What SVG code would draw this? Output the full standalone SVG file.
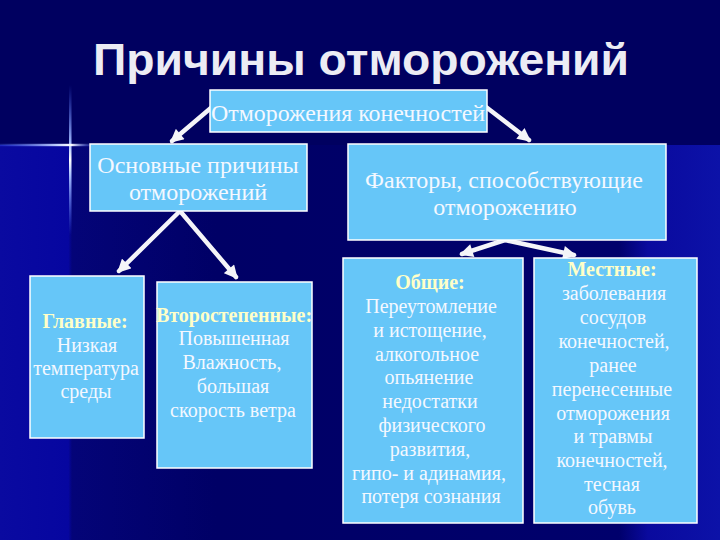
<svg xmlns="http://www.w3.org/2000/svg" width="720" height="540" viewBox="0 0 720 540">
<defs>
<style>
.box{fill:#66c6f8;stroke:#ffffff;stroke-width:1.5}
.t{fill:#f4f8ff;text-anchor:middle}
.h{fill:#ffffc8;font-weight:bold;text-anchor:middle}
.c{stroke:#f4f4f8;stroke-width:4.5;fill:none;stroke-linecap:round}
</style>
<marker id="ah" viewBox="0 0 10 10" refX="8" refY="5" markerWidth="3.2" markerHeight="3" orient="auto">
<path d="M0,0 L10,5 L0,10 z" fill="#f4f4f8"/>
</marker>
<linearGradient id="bgLow" x1="0" y1="0" x2="1" y2="0">
<stop offset="0" stop-color="#0a0aa0"/>
<stop offset="0.095" stop-color="#0606a0"/>
<stop offset="0.1" stop-color="#040478"/>
<stop offset="0.3" stop-color="#000066"/>
<stop offset="0.86" stop-color="#00006c"/>
<stop offset="0.9" stop-color="#0a0a9e"/>
<stop offset="1" stop-color="#0c12a8"/>
</linearGradient>
<linearGradient id="vGl" x1="0" y1="0" x2="0" y2="1">
<stop offset="0" stop-color="#4a6cff" stop-opacity="0"/>
<stop offset="0.4" stop-color="#a8c0ff" stop-opacity="1"/>
<stop offset="0.5" stop-color="#ffffff" stop-opacity="1"/>
<stop offset="0.6" stop-color="#a8c0ff" stop-opacity="1"/>
<stop offset="1" stop-color="#4a6cff" stop-opacity="0"/>
</linearGradient>
<linearGradient id="hGl" x1="0" y1="0" x2="1" y2="0">
<stop offset="0" stop-color="#4a6cff" stop-opacity="0.3"/>
<stop offset="0.6" stop-color="#c0d0ff" stop-opacity="1"/>
<stop offset="0.75" stop-color="#ffffff" stop-opacity="1"/>
<stop offset="1" stop-color="#4a6cff" stop-opacity="0"/>
</linearGradient>
</defs>
<g id="background">
<rect x="0" y="0" width="720" height="540" fill="#000064"/>
<rect x="0" y="145" width="720" height="395" fill="url(#bgLow)"/>
<rect x="0" y="0" width="720" height="145" fill="#000060"/>
<rect x="69" y="85" width="2.5" height="150" fill="url(#vGl)"/>
<rect x="0" y="143.8" width="95" height="2.4" fill="url(#hGl)"/>
</g>
<text id="title" x="361" y="75" font-family="Liberation Sans, Arial, sans-serif" font-weight="bold" font-size="45" fill="#ececf4" text-anchor="middle" textLength="536" lengthAdjust="spacingAndGlyphs">Причины отморожений</text>
<g id="connectors">
<line class="c" x1="212" y1="107" x2="172" y2="141" marker-end="url(#ah)"/>
<line class="c" x1="486" y1="107" x2="529" y2="140" marker-end="url(#ah)"/>
<line class="c" x1="180" y1="211" x2="119" y2="271" marker-end="url(#ah)"/>
<line class="c" x1="180" y1="211" x2="236" y2="277" marker-end="url(#ah)"/>
<line class="c" x1="505" y1="240" x2="462" y2="254" marker-end="url(#ah)"/>
<line class="c" x1="505" y1="240" x2="574" y2="255" marker-end="url(#ah)"/>
</g>
<g id="nodes" font-family="Liberation Serif, Times New Roman, serif">
<g id="n-top">
<rect class="box" x="210" y="90" width="277" height="42"/>
<text class="t" x="348" y="121" font-size="23" textLength="274" lengthAdjust="spacingAndGlyphs">Отморожения конечностей</text>
</g>
<g id="n-main">
<rect class="box" x="90" y="144" width="217" height="67"/>
<text class="t" x="198" y="173" font-size="24">Основные причины</text>
<text class="t" x="198" y="200" font-size="24">отморожений</text>
</g>
<g id="n-factors">
<rect class="box" x="348" y="144" width="318" height="96"/>
<text class="t" x="504" y="188" font-size="24">Факторы, способствующие</text>
<text class="t" x="505" y="215" font-size="24">отморожению</text>
</g>
<g id="n-primary">
<rect class="box" x="30" y="276" width="114" height="162"/>
<text class="h" x="85" y="328" font-size="20">Главные:</text>
<text class="t" x="87" y="352" font-size="20">Низкая</text>
<text class="t" x="86" y="375" font-size="20">температура</text>
<text class="t" x="86" y="398" font-size="20">среды</text>
</g>
<g id="n-secondary">
<rect class="box" x="157" y="282" width="155" height="186"/>
<text class="h" x="234" y="322" font-size="20">Второстепенные:</text>
<text class="t" x="234" y="345" font-size="20">Повышенная</text>
<text class="t" x="232" y="369" font-size="20">Влажность,</text>
<text class="t" x="233" y="393" font-size="20">большая</text>
<text class="t" x="233" y="417" font-size="20">скорость ветра</text>
</g>
<g id="n-general">
<rect class="box" x="343" y="258" width="180" height="265"/>
<text class="h" x="430" y="289" font-size="20">Общие:</text>
<text class="t" x="431" y="313" font-size="20">Переутомление</text>
<text class="t" x="430" y="337" font-size="20">и истощение,</text>
<text class="t" x="427" y="361" font-size="20">алкогольное</text>
<text class="t" x="429" y="384" font-size="20">опьянение</text>
<text class="t" x="430" y="408" font-size="20">недостатки</text>
<text class="t" x="432" y="432" font-size="20">физического</text>
<text class="t" x="430" y="456" font-size="20">развития,</text>
<text class="t" x="429" y="480" font-size="20">гипо- и адинамия,</text>
<text class="t" x="431" y="503" font-size="20">потеря сознания</text>
</g>
<g id="n-local">
<rect class="box" x="534" y="258" width="163" height="265"/>
<text class="h" x="612" y="276" font-size="20">Местные:</text>
<text class="t" x="614" y="300" font-size="20">заболевания</text>
<text class="t" x="613" y="324" font-size="20">сосудов</text>
<text class="t" x="614" y="348" font-size="20">конечностей,</text>
<text class="t" x="613" y="372" font-size="20">ранее</text>
<text class="t" x="612" y="396" font-size="20">перенесенные</text>
<text class="t" x="613" y="420" font-size="20">отморожения</text>
<text class="t" x="613" y="443" font-size="20">и травмы</text>
<text class="t" x="612" y="467" font-size="20">конечностей,</text>
<text class="t" x="612" y="491" font-size="20">тесная</text>
<text class="t" x="612" y="514" font-size="20">обувь</text>
</g>
</g>
</svg>
